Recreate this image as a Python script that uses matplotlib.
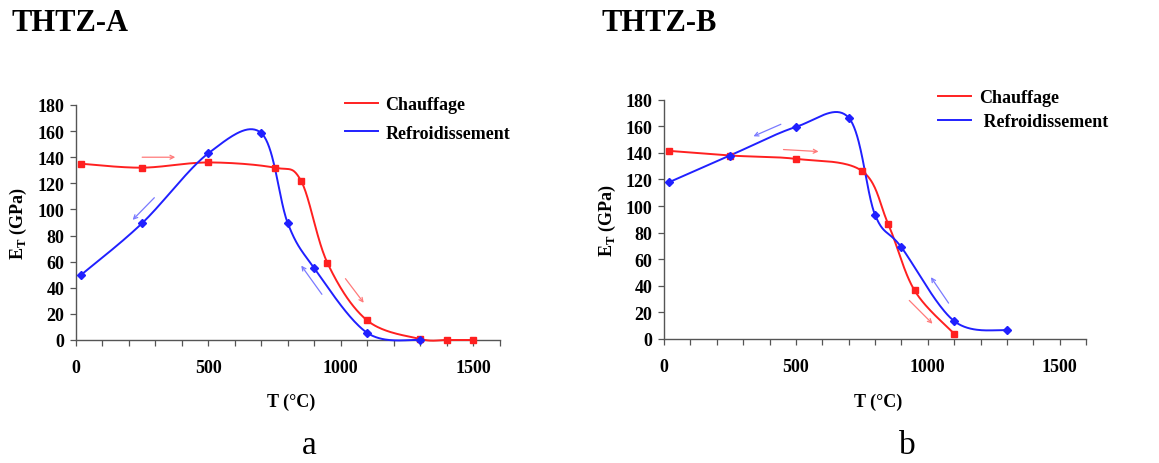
import numpy as np
import matplotlib
matplotlib.use("Agg")
import matplotlib.pyplot as plt
from matplotlib.ticker import MultipleLocator

plt.rcParams["font.family"] = ["Liberation Serif", "DejaVu Serif"]
plt.rcParams["font.weight"] = "bold"

# THTZ-A : heating (Chauffage) and cooling (Refroidissement)
a_heat_T = [20, 250, 500, 750, 850, 950, 1100, 1300, 1400, 1500]
a_heat_E = [135, 132, 136, 132, 122, 59, 15, 0.8, 0, 0]
a_cool_T = [20, 250, 500, 700, 800, 900, 1100, 1300]
a_cool_E = [50, 89.5, 143, 158.5, 89.5, 55, 5.5, 0]

# THTZ-B
b_heat_T = [20, 250, 500, 750, 850, 950, 1100]
b_heat_E = [141.5, 138, 135.5, 126.5, 86.5, 36.5, 4]
b_cool_T = [20, 250, 500, 700, 800, 900, 1100, 1300]
b_cool_E = [118, 138, 159.5, 166.5, 93.5, 69, 13.5, 6.5]

series_labels = ["Chauffage", "Refroidissement"]
panel_titles = ["THTZ-A", "THTZ-B"]
panel_letters = ["a", "b"]

# direction arrows (start -> end, in data units)
a_arrows = [((250, 140), (375, 140), "heat"),
            ((296, 109), (214, 92), "cool"),
            ((929, 35), (851, 57), "cool"),
            ((1018, 47), (1087, 28.5), "heat")]
b_arrows = [((443, 161.5), (339, 152.5), "cool"),
            ((453, 142.5), (586, 141), "heat"),
            ((1079, 27), (1012, 46.5), "cool"),
            ((930, 29), (1018, 11.5), "heat")]

RED = "#ff2020"
BLUE = "#2020ff"
ARROW_RED = "#ff7a7a"
ARROW_BLUE = "#7a7aff"


def smooth(xs, ys, n=40):
    """Catmull-Rom style smoothed line through the points (spreadsheet smoothing)."""
    p = np.column_stack([xs, ys]).astype(float)
    ext = np.vstack([p[0], p, p[-1]])
    out = [p[:1]]
    t = np.linspace(0, 1, n)[1:, None]
    for i in range(len(p) - 1):
        p0, p1, p2, p3 = ext[i], ext[i + 1], ext[i + 2], ext[i + 3]
        c1 = p1 + (p2 - p0) / 6.0
        c2 = p2 - (p3 - p1) / 6.0
        seg = ((1 - t) ** 3) * p1 + 3 * ((1 - t) ** 2) * t * c1 + 3 * (1 - t) * t ** 2 * c2 + t ** 3 * p2
        out.append(seg)
    q = np.vstack(out)
    return q[:, 0], q[:, 1]


fig = plt.figure(figsize=(11.59, 4.64), dpi=100)
W, H = 1159, 464

panels = [
    dict(box=(76, 499.5, 106, 341), heat=(a_heat_T, a_heat_E), cool=(a_cool_T, a_cool_E),
         arrows=a_arrows, leg=(345, 120), lspace=0.62, title_x=12, letter_x=309,
         ylab_x=-0.137, labels=series_labels),
    dict(box=(664, 1086, 100.7, 340), heat=(b_heat_T, b_heat_E), cool=(b_cool_T, b_cool_E),
         arrows=b_arrows, leg=(938, 110.5), lspace=0.4, title_x=602, letter_x=907,
         ylab_x=-0.135, labels=[series_labels[0], " " + series_labels[1]]),
]

for k, pd_ in enumerate(panels):
    x0, x1, ytop, ybot = pd_["box"]
    ax = fig.add_axes([x0 / W, 1 - ybot / H, (x1 - x0) / W, (ybot - ytop) / H])
    ax.set_xlim(0, 1600)
    ax.set_ylim(0, 180)

    for (T, E), col, mk, ms, lab in [(pd_["heat"], RED, "s", 5, pd_["labels"][0]),
                                     (pd_["cool"], BLUE, "D", 3.8, pd_["labels"][1])]:
        sx, sy = smooth(T, E)
        ax.plot(sx, sy, color=col, lw=1.4, clip_on=False, zorder=3, label=lab)
        ax.plot(T, E, ls="none", marker=mk, ms=ms, color=col, mec=col, clip_on=False, zorder=4)

    for (s, e, kind) in pd_["arrows"]:
        ax.annotate("", xy=e, xytext=s,
                    arrowprops=dict(arrowstyle="->", lw=0.9, mutation_scale=7,
                                    color=ARROW_RED if kind == "heat" else ARROW_BLUE,
                                    shrinkA=0, shrinkB=0), zorder=2)

    for side in ("top", "right"):
        ax.spines[side].set_visible(False)
    for side in ("left", "bottom"):
        ax.spines[side].set_color("#555555")
        ax.spines[side].set_linewidth(1.0)

    ax.xaxis.set_major_locator(MultipleLocator(500))
    ax.xaxis.set_minor_locator(MultipleLocator(100))
    ax.yaxis.set_major_locator(MultipleLocator(20))
    ax.tick_params(axis="both", which="both", direction="out", length=4.5, width=0.9,
                   color="#555555", labelsize=13)
    ax.tick_params(axis="x", which="major", pad=9)
    ax.tick_params(axis="y", which="major", pad=4)
    for lbl in ax.get_xticklabels() + ax.get_yticklabels():
        lbl.set_fontweight("bold")

    ax.set_xlabel("T (°C)", fontsize=13, fontweight="bold")
    ax.xaxis.set_label_coords(0.507, -0.26)
    ax.xaxis.label.set_va("center")
    ax.set_ylabel(r"E$_\mathregular{T}$ (GPa)", fontsize=13, fontweight="bold")
    ax.yaxis.set_label_coords(pd_["ylab_x"], 0.5)
    ax.yaxis.label.set_va("center")

    lx, ly = pd_["leg"]
    ax.legend(loc="center left", bbox_to_anchor=(lx / W, 1 - ly / H),
              bbox_transform=fig.transFigure, frameon=False, borderpad=0,
              borderaxespad=0, handlelength=1.85, handletextpad=0.4,
              labelspacing=pd_["lspace"], prop=dict(size=13, weight="bold"))

    fig.text(pd_["title_x"] / W, 1 - 23.5 / H, panel_titles[k], fontsize=22,
             fontweight="bold", ha="left", va="center")
    fig.text(pd_["letter_x"] / W, 1 - 446 / H, panel_letters[k], fontsize=24,
             fontweight="normal", ha="center", va="center")

fig.savefig("out.png", dpi=100, facecolor="white")
